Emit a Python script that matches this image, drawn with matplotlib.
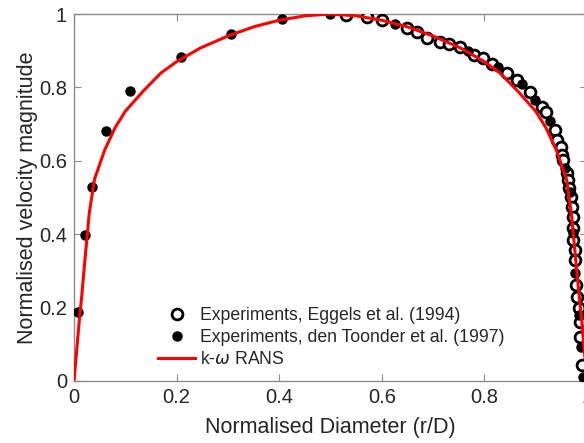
import matplotlib.pyplot as plt
import numpy as np

plt.rcParams['font.family'] = ['Liberation Sans', 'DejaVu Sans']

# Eggels et al. (1994), open circles
eggels_x = [0.530, 0.571, 0.600, 0.649, 0.669, 0.688, 0.713, 0.731, 0.752, 0.780,
            0.797, 0.815, 0.844, 0.864, 0.889, 0.912, 0.920, 0.938, 0.942, 0.949,
            0.951, 0.953, 0.961, 0.963, 0.965, 0.969, 0.971, 0.973, 0.973, 0.973,
            0.977, 0.977, 0.979, 0.981, 0.984, 0.986, 0.986, 0.990]
eggels_y = [0.997, 0.992, 0.984, 0.962, 0.951, 0.935, 0.924, 0.918, 0.910, 0.888,
            0.880, 0.864, 0.839, 0.820, 0.787, 0.747, 0.733, 0.684, 0.657, 0.638,
            0.616, 0.602, 0.567, 0.548, 0.526, 0.501, 0.474, 0.447, 0.417, 0.384,
            0.357, 0.330, 0.262, 0.229, 0.199, 0.161, 0.120, 0.044]

# den Toonder et al. (1997), filled dots
toonder_x = [0.008, 0.021, 0.035, 0.062, 0.109, 0.208, 0.306, 0.405, 0.499,
             0.626, 0.768, 0.827, 0.873, 0.899, 0.928, 0.957, 0.967, 0.973,
             0.977, 0.984, 0.988, 0.992]
toonder_y = [0.188, 0.398, 0.529, 0.681, 0.790, 0.883, 0.946, 0.986, 1.000,
             0.973, 0.899, 0.856, 0.809, 0.766, 0.708, 0.580, 0.515, 0.403,
             0.294, 0.180, 0.093, 0.011]

# k-omega RANS profile
rans_x = [0.0, 0.005, 0.01, 0.015, 0.02, 0.03, 0.04, 0.05, 0.06, 0.08, 0.10,
          0.135, 0.17, 0.20, 0.246, 0.30, 0.35, 0.40, 0.45, 0.50, 0.55, 0.60,
          0.65, 0.70, 0.754, 0.80, 0.83, 0.865, 0.90, 0.92, 0.94, 0.95, 0.96,
          0.97, 0.98, 0.985, 0.99, 0.995, 1.0]
rans_y = [0.0, 0.08, 0.16, 0.23, 0.31, 0.46, 0.55, 0.59, 0.63, 0.69, 0.735,
          0.79, 0.84, 0.87, 0.907, 0.94, 0.965, 0.983, 0.995, 1.0, 0.995, 0.983,
          0.965, 0.94, 0.907, 0.87, 0.84, 0.79, 0.735, 0.69, 0.63, 0.59, 0.55,
          0.45, 0.30, 0.23, 0.16, 0.08, 0.0]

txt = '#262626'
spine = '#8c8c8c'

fig = plt.figure(figsize=(5.84, 4.43), dpi=100)
ax = fig.add_axes([74/584, 1-381/443, 513/584, 367/443])

ax.plot(eggels_x, eggels_y, marker='o', linestyle='none', markersize=7.8,
        markerfacecolor='white', markeredgecolor='k', markeredgewidth=2.0,
        label='Experiments, Eggels et al. (1994)', zorder=3)
ax.plot(toonder_x, toonder_y, marker='o', linestyle='none', markersize=6.5,
        color='k', label='Experiments, den Toonder et al. (1997)', zorder=4)
ax.plot(rans_x, rans_y, color='red', linewidth=2.2,
        label=r'k-$\omega$ RANS', zorder=5)

ax.set_xlim(0, 1)
ax.set_ylim(0, 1)
ax.set_xticks([0, 0.2, 0.4, 0.6, 0.8, 1])
ax.set_yticks([0, 0.2, 0.4, 0.6, 0.8, 1])
ax.set_xticklabels(['0', '0.2', '0.4', '0.6', '0.8', '1'])
ax.set_yticklabels(['0', '0.2', '0.4', '0.6', '0.8', '1'])
ax.tick_params(direction='in', top=True, right=True, length=5, width=0.8,
               color=spine, labelcolor=txt, labelsize=14.5, pad=5)
for s in ax.spines.values():
    s.set_color(spine)
    s.set_linewidth(1.0)

ax.set_xlabel('Normalised Diameter (r/D)', fontsize=15.5, color=txt, labelpad=7)
ax.set_ylabel('Normalised velocity magnitude', fontsize=15.5, color=txt, labelpad=1)

ax.legend(loc='lower left', bbox_to_anchor=(0.164, 0.035), frameon=False,
          fontsize=12.7, handlelength=2.1, handletextpad=0.3, labelspacing=0.28,
          borderpad=0, borderaxespad=0, labelcolor=txt)

plt.savefig('out.png', dpi=100)
